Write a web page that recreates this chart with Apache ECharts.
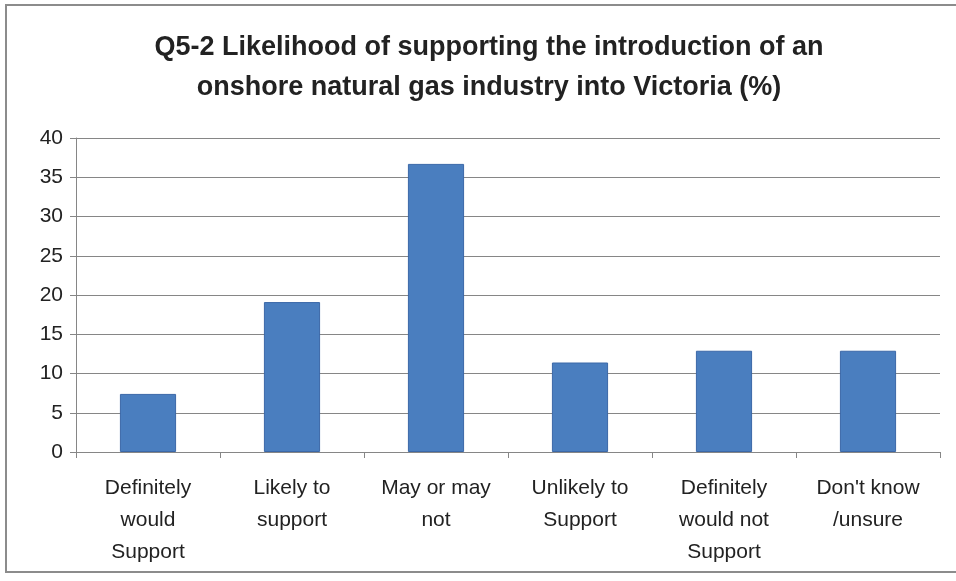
<!DOCTYPE html>
<html><head><meta charset="utf-8">
<script src="https://cdn.jsdelivr.net/npm/echarts@6/dist/echarts.min.js"></script>
<style>html,body{margin:0;padding:0;background:#fff}#c{width:956px;height:581px}</style>
</head><body><div id="c"></div>
<script>
const titleText = "Q5-2 Likelihood of supporting the introduction of an\nonshore natural gas industry into Victoria (%)";
const categories = ["Definitely\nwould\nSupport","Likely to\nsupport","May or may\nnot","Unlikely to\nSupport","Definitely\nwould not\nSupport","Don't know\n/unsure"];
const values = [7.4, 19.1, 36.7, 11.4, 12.9, 12.9];
const yMin = 0, yMax = 40, yStep = 5;

const chart = echarts.init(document.getElementById('c'));
const FONT = "'Liberation Sans',sans-serif";
chart.setOption({
  backgroundColor: '#fff',
  animation: false,
  graphic: [
    {type:'rect', shape:{x:6,y:5,width:960,height:567}, style:{fill:'none', stroke:'#8c8c8c', lineWidth:2}},
    {type:'text', x: 489, y: 28, style:{text: titleText, textAlign:'center', textVerticalAlign:'top',
      font: "bold 27px 'Liberation Sans',sans-serif", lineHeight: 40, fill:'#222'}}
  ],
  grid: {left: 76, right: 16, top: 138, bottom: 129, containLabel: false},
  xAxis: {
    type: 'category', data: categories,
    axisLine: {lineStyle: {color: '#868686'}},
    axisTick: {show: true, length: 6, lineStyle: {color: '#868686'}},
    axisLabel: {interval: 0, fontFamily: FONT, fontSize: 21, lineHeight: 32, color: '#222', margin: 20}
  },
  yAxis: {
    type: 'value', min: yMin, max: yMax, interval: yStep,
    axisLine: {show: true, lineStyle: {color: '#868686'}},
    axisTick: {show: true, length: 6, lineStyle: {color: '#868686'}},
    splitLine: {lineStyle: {color: '#868686', width: 1}},
    axisLabel: {fontFamily: FONT, fontSize: 21, color: '#222', margin: 13}
  },
  series: [{
    type: 'bar', data: values, barWidth: '39%',
    itemStyle: {color: '#4a7ebf', borderColor: '#3b68a8', borderWidth: 1}
  }]
});
</script></body></html>
